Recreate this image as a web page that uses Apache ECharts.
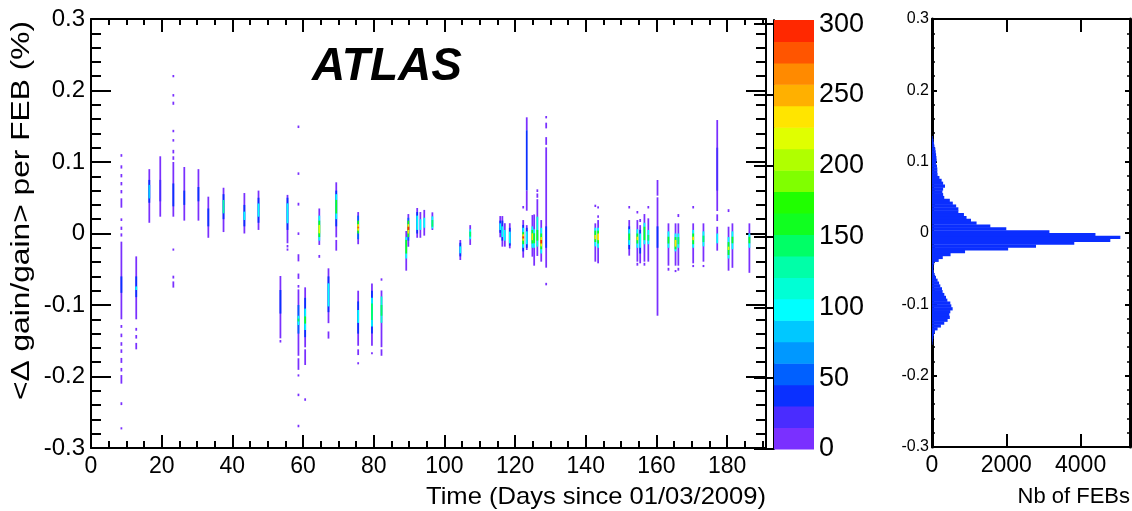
<!DOCTYPE html>
<html><head><meta charset="utf-8">
<script src="https://cdn.jsdelivr.net/npm/echarts/dist/echarts.min.js"></script>
<style>html,body{margin:0;padding:0;background:#fff}#c{width:1132px;height:511px}</style>
</head><body><div id="c"></div>
<script>
// ---------- data ----------
// colour levels (ROOT rainbow palette, 20 contours), bottom to top
const palette = ['#7a30ff','#4a2cff','#0a30ff','#0060ff','#0098ff','#00c8ff','#00ffff','#00ffd5','#00ffa8','#00ff66',
                 '#10ff20','#20ff00','#80ff00','#b0ff00','#e0ff00','#ffe500','#ffb000','#ff8a00','#ff5500','#ff2800'];
const zMax = 303;
// 2D histogram cells: [day, gainLow(%), gainHigh(%), entries]
const cells = [
[8.6,0.1073,0.1110,5],[8.6,0.0908,0.0954,5],[8.6,0.0785,0.0832,5],[8.6,0.0673,0.0720,5],[8.6,0.0561,0.0608,5],
[8.6,0.0361,0.0492,5],[8.6,0.0175,0.0212,5],[8.6,0.0050,0.0096,5],[8.6,-0.0043,0.0002,5],[8.6,-0.1200,-0.0114,8],
[8.6,-0.0830,-0.0600,38],[8.6,-0.1320,-0.1280,4],[8.6,-0.1450,-0.1400,4],[8.6,-0.1570,-0.1520,4],[8.6,-0.1670,-0.1620,4],
[8.6,-0.1810,-0.1740,4],[8.6,-0.1930,-0.1880,4],[8.6,-0.2100,-0.1980,4],[8.6,-0.2400,-0.2360,3],[8.6,-0.2740,-0.2710,3],
[12.8,-0.1200,-0.0320,8],[12.8,-0.0890,-0.0600,38],[12.8,-0.0790,-0.0740,95],[12.8,-0.1360,-0.1320,4],[12.8,-0.1470,-0.1420,4],[12.8,-0.1620,-0.1530,4],
[16.5,0.0150,0.0900,8],[16.5,0.0430,0.0750,38],[16.5,0.0490,0.0680,90],
[19.6,0.0235,0.1080,8],[19.6,0.0450,0.0750,24],
[23.3,0.2185,0.2217,4],[23.3,0.1915,0.1950,4],[23.3,0.1800,0.1844,4],[23.3,0.1416,0.1450,4],[23.3,0.1285,0.1320,4],
[23.3,0.1120,0.1170,4],[23.3,0.1030,0.1080,4],[23.3,0.0235,0.1000,8],[23.3,0.0380,0.0700,38],[23.3,-0.0240,-0.0210,4],
[23.3,-0.0630,-0.0590,4],[23.3,-0.0757,-0.0670,4],
[26.4,0.0180,0.0930,8],[26.4,0.0400,0.0600,34],
[30.4,0.0180,0.0900,8],[30.4,0.0450,0.0650,34],
[33.2,-0.0060,0.0515,8],[33.2,0.0100,0.0350,38],
[37.5,0.0020,0.0640,8],[37.5,0.0200,0.0550,45],[37.5,0.0282,0.0469,125],
[43.4,0.0000,0.0566,8],[43.4,0.0100,0.0400,40],[43.4,0.0189,0.0306,100],
[47.4,0.0050,0.0600,8],[47.4,0.0150,0.0500,40],[47.4,0.0235,0.0420,100],
[53.6,-0.1466,-0.0594,8],[53.6,-0.1120,-0.0790,38],[53.6,-0.1525,-0.1490,4],
[55.6,-0.0137,0.0540,8],[55.6,0.0050,0.0500,45],[55.6,0.0143,0.0422,100],[55.6,-0.0195,-0.0160,4],[55.6,-0.0240,-0.0210,4],
[58.7,0.1475,0.1510,4],[58.7,0.0820,0.0855,4],[58.7,0.0390,0.0430,4],[58.7,-0.0020,0.0016,4],[58.7,-0.0390,-0.0290,4],
[58.7,-0.0635,-0.0560,4],[58.7,-0.0757,-0.0720,4],[58.7,-0.1710,-0.0782,8],[58.7,-0.1400,-0.1000,50],[58.7,-0.1280,-0.1150,100],
[58.7,-0.1230,-0.1190,150],[58.7,-0.1907,-0.1745,4],[58.7,-0.2000,-0.1970,4],[58.7,-0.2275,-0.2240,4],[58.7,-0.2710,-0.2675,4],
[60.6,-0.1592,-0.0753,8],[60.6,-0.1450,-0.0900,45],[60.6,-0.1350,-0.1050,100],[60.6,-0.1260,-0.1160,160],[60.6,-0.1839,-0.1620,4],[60.6,-0.2340,-0.2305,4],
[64.6,-0.0160,0.0350,8],[64.6,-0.0100,0.0250,100],[64.6,-0.0050,0.0180,160],[64.6,0.0003,0.0120,215],[64.6,-0.0340,-0.0300,4],
[67.2,-0.1254,-0.0487,8],[67.2,-0.1100,-0.0600,45],[67.2,-0.1020,-0.0697,100],[67.2,-0.1470,-0.1370,4],
[69.4,-0.0054,0.0716,8],[69.4,0.0100,0.0600,45],[69.4,0.0200,0.0550,100],[69.4,0.0280,0.0470,160],[69.4,-0.0240,-0.0090,6],
[75.6,-0.0150,0.0300,8],[75.6,-0.0080,0.0250,60],[75.6,0.0000,0.0180,160],[75.6,0.0040,0.0130,230],[75.6,0.0072,0.0095,280],
[75.6,-0.1570,-0.0800,8],[75.6,-0.1400,-0.0950,45],[75.6,-0.1250,-0.1070,100],[75.6,-0.1700,-0.1620,4],[75.6,-0.1830,-0.1800,4],
[79.5,-0.1570,-0.0698,8],[79.5,-0.1400,-0.0800,45],[79.5,-0.1300,-0.0900,100],[79.5,-0.1210,-0.0980,150],[79.5,-0.1690,-0.1660,4],
[82.2,-0.0660,-0.0627,4],[82.2,-0.1590,-0.0797,8],[82.2,-0.1250,-0.0880,110],[82.2,-0.1150,-0.1000,150],[82.2,-0.1710,-0.1620,4],
[89.2,-0.0520,0.0035,8],[89.2,-0.0350,-0.0050,100],[89.2,-0.0280,-0.0090,155],
[89.8,-0.0185,0.0272,8],[89.8,-0.0100,0.0220,50],[89.8,-0.0050,0.0180,160],[89.8,0.0000,0.0130,230],[89.8,0.0050,0.0095,290],
[92.3,-0.0060,0.0357,8],[92.3,0.0000,0.0300,45],[92.3,0.0050,0.0250,100],
[93.2,-0.0060,0.0300,8],[93.2,0.0050,0.0200,95],
[94.3,-0.0030,0.0330,8],[94.3,0.0080,0.0220,100],
[96.6,0.0049,0.0296,8],[96.6,0.0070,0.0240,95],[96.6,0.0095,0.0189,150],
[104.5,-0.0371,-0.0091,8],[104.5,-0.0320,-0.0130,45],[104.5,-0.0277,-0.0180,95],
[107.3,-0.0160,0.0117,8],[107.3,-0.0080,0.0060,100],[107.3,-0.0044,0.0026,150],
[115.8,-0.0053,0.0244,8],[115.8,0.0010,0.0180,45],[115.8,0.0049,0.0142,100],
[116.4,-0.0184,0.0244,8],[116.4,-0.0100,0.0180,45],[116.4,-0.0050,0.0100,100],
[117.1,-0.0184,0.0144,8],[117.1,-0.0100,0.0050,95],
[118.5,-0.0207,0.0144,8],[118.5,-0.0170,0.0080,45],[118.5,-0.0137,0.0026,100],
[122.3,0.0350,0.0385,4],[122.3,-0.0338,0.0188,8],[122.3,-0.0250,0.0120,45],[122.3,-0.0200,0.0080,100],[122.3,-0.0150,0.0020,160],
[122.3,-0.0100,-0.0010,230],[122.3,-0.0070,-0.0040,290],
[123.3,0.1445,0.1625,8],[123.3,0.0600,0.1445,35],[123.3,0.0319,0.0600,8],[123.3,-0.0231,0.0117,8],[123.3,-0.0200,0.0080,45],[123.3,-0.0150,0.0030,100],
[124.9,-0.0324,0.0258,8],[124.9,-0.0200,0.0100,100],[124.9,-0.0140,0.0050,160],[124.9,-0.0093,0.0003,230],
[125.4,-0.0450,0.0267,8],[125.4,-0.0200,0.0060,100],[125.4,-0.0137,0.0003,155],
[126.3,0.0580,0.0618,4],[126.3,0.0500,0.0560,4],[126.3,-0.0314,0.0480,8],[126.3,-0.0184,0.0235,110],[126.3,-0.0100,0.0050,165],
[127.4,-0.0394,0.0188,8],[127.4,-0.0280,0.0080,100],[127.4,-0.0220,0.0000,160],[127.4,-0.0180,-0.0050,230],[127.4,-0.0140,-0.0090,290],
[128.8,0.1610,0.1643,4],[128.8,0.1470,0.1550,4],[128.8,0.1240,0.1348,4],[128.8,-0.0478,0.1205,8],[128.8,-0.0200,0.0100,40],[128.8,-0.0725,-0.0690,4],
[142.7,0.0370,0.0403,4],[142.7,-0.0394,0.0142,8],[142.7,-0.0180,0.0080,100],[142.7,-0.0120,0.0040,160],[142.7,-0.0080,-0.0020,230],
[143.5,0.0350,0.0380,4],[143.5,0.0220,0.0254,4],[143.5,-0.0417,0.0188,8],[143.5,-0.0200,0.0080,100],[143.5,-0.0140,0.0040,160],[143.5,-0.0093,0.0000,235],
[152.3,0.0350,0.0385,4],[152.3,-0.0310,0.0188,8],[152.3,-0.0220,0.0100,45],[152.3,-0.0160,0.0060,100],[152.3,-0.0093,0.0000,155],
[154.6,0.0280,0.0315,4],[154.6,-0.0394,0.0188,8],[154.6,-0.0200,0.0060,100],[154.6,-0.0140,0.0000,160],[154.6,-0.0093,-0.0045,230],[154.6,-0.0450,-0.0410,4],
[155.4,0.0160,0.0203,4],[155.4,-0.0417,0.0117,8],[155.4,-0.0280,0.0050,45],[155.4,-0.0200,0.0000,100],
[156.6,-0.0394,0.0272,8],[156.6,-0.0150,0.0150,100],[156.6,-0.0093,0.0095,160],[156.6,-0.0450,-0.0410,4],
[157.7,0.0350,0.0385,4],[157.7,-0.0394,0.0212,8],[157.7,-0.0150,0.0050,100],[157.7,-0.0100,-0.0020,150],
[160.3,0.0529,0.0748,8],[160.3,-0.1150,0.0506,8],[160.3,-0.0200,0.0100,35],
[163.4,-0.0450,0.0142,8],[163.4,-0.0200,0.0030,100],[163.4,-0.0140,-0.0045,160],[163.4,-0.0520,-0.0480,4],
[165.4,-0.0450,0.0142,8],[165.4,-0.0250,0.0000,100],[165.4,-0.0220,-0.0050,160],[165.4,-0.0184,-0.0090,230],[165.4,-0.0540,-0.0510,4],
[166.2,0.0230,0.0272,4],[166.2,-0.0450,0.0142,8],[166.2,-0.0200,0.0000,100],[166.2,-0.0150,-0.0050,150],[166.2,-0.0520,-0.0480,4],
[170.4,0.0350,0.0385,4],[170.4,-0.0417,0.0142,8],[170.4,-0.0200,0.0050,100],[170.4,-0.0150,0.0000,160],[170.4,-0.0093,-0.0045,230],[170.4,-0.0470,-0.0440,4],
[173.3,-0.0394,0.0142,8],[173.3,-0.0180,0.0030,100],[173.3,-0.0120,-0.0030,150],[173.3,-0.0470,-0.0440,4],
[177.2,0.0315,0.1587,8],[177.2,0.0600,0.1200,30],[177.2,0.0175,0.0268,4],[177.2,-0.0240,0.0095,8],[177.2,-0.0137,0.0000,100],
[180.4,0.0300,0.0340,4],[180.4,-0.0520,0.0095,8],[180.4,-0.0350,-0.0050,100],[180.4,-0.0300,-0.0120,160],[180.4,-0.0230,-0.0184,225],
[181.5,-0.0480,0.0142,8],[181.5,-0.0220,0.0030,100],[181.5,-0.0137,-0.0045,160],
[186.3,-0.0550,0.0142,8],[186.3,-0.0200,0.0000,100],[186.3,-0.0137,-0.0045,160]
];
// projection histogram (Nb of FEBs), bins of histBinWidth starting at histBinStart, bottom to top
const histBinStart = -0.156;
const histBinWidth = 0.004;
const histCounts = [15,25,36,50,80,150,240,330,420,480,466,493,556,520,493,413,377,332,287,270,
                    224,190,150,108,72,50,36,40,60,180,290,500,890,2050,2800,3830,4800,5070,4400,3160,
                    2000,1570,1200,1050,930,860,710,710,650,560,480,330,300,280,300,350,300,260,200,150,
                    143,143,135,110,125,120,110,100,90,65,55,40,20];

// ---------- chart ----------
const FONT = '"Liberation Sans", Arial, Helvetica, sans-serif';
const chart = echarts.init(document.getElementById('c'), null, {renderer: 'canvas'});
const black = '#000';
const cellHalfWidth = 0.25;
const levelStep = zMax / palette.length;
const plainNumber = v => String(+v.toFixed(6));

function frameAxis(extra) {
  return Object.assign({
    axisLine: {show: true, onZero: false, lineStyle: {color: black, width: 2}},
    splitLine: {show: false},
    axisTick: {show: true, inside: true, lineStyle: {color: black, width: 2}},
    minorTick: {show: false},
    axisLabel: {show: false}
  }, extra);
}

const mainX = {gridIndex: 0, type: 'value', min: 0, max: 191, interval: 20};
const mainY = {gridIndex: 0, type: 'value', min: -0.3, max: 0.3, interval: 0.1};
const sideX = {gridIndex: 2, type: 'value', min: 0, max: 5330, interval: 2000};
const sideY = {gridIndex: 2, type: 'value', min: -0.3, max: 0.3, interval: 0.1};

const option = {
  animation: false,
  backgroundColor: '#fff',
  grid: [
    {left: 91, top: 19, width: 675, height: 429, outerBoundsMode: 'none', containLabel: false},
    {left: 774, top: 20, width: 40, height: 429, outerBoundsMode: 'none', containLabel: false},
    {left: 932, top: 19, width: 198, height: 428, outerBoundsMode: 'none', containLabel: false}
  ],
  xAxis: [
    frameAxis(Object.assign({}, mainX, {position: 'bottom',
      axisTick: {show: true, inside: true, length: 13, lineStyle: {color: black, width: 2}},
      minorTick: {show: true, splitNumber: 4, length: 7, lineStyle: {color: black, width: 2}},
      axisLabel: {show: true, showMaxLabel: false, color: black, fontFamily: FONT, fontSize: 23, margin: 7, formatter: plainNumber}})),
    frameAxis(Object.assign({}, mainX, {position: 'top',
      axisTick: {show: true, inside: true, length: 13, lineStyle: {color: black, width: 2}},
      minorTick: {show: true, splitNumber: 4, length: 6, lineStyle: {color: black, width: 2}}})),
    {gridIndex: 1, type: 'value', min: 0, max: 1, show: false},
    frameAxis(Object.assign({}, sideX, {position: 'bottom',
      axisTick: {show: true, inside: true, length: 13, lineStyle: {color: black, width: 2}},
      axisLabel: {show: true, showMaxLabel: false, color: black, fontFamily: FONT, fontSize: 23, margin: 7, formatter: plainNumber}})),
    frameAxis(Object.assign({}, sideX, {position: 'top',
      axisTick: {show: true, inside: true, length: 13, lineStyle: {color: black, width: 2}}}))
  ],
  yAxis: [
    frameAxis(Object.assign({}, mainY, {position: 'left',
      axisTick: {show: true, inside: true, length: 20, lineStyle: {color: black, width: 2}},
      minorTick: {show: true, splitNumber: 5, length: 10, lineStyle: {color: black, width: 2}},
      axisLabel: {show: true, color: black, fontFamily: FONT, fontSize: 24, margin: 6, formatter: plainNumber}})),
    frameAxis(Object.assign({}, mainY, {position: 'right',
      axisTick: {show: true, inside: true, length: 20, lineStyle: {color: black, width: 2}},
      minorTick: {show: true, splitNumber: 5, length: 10, lineStyle: {color: black, width: 2}}})),
    {gridIndex: 1, type: 'value', min: 0, max: zMax, interval: 50, position: 'right',
      axisLine: {show: true, lineStyle: {color: black, width: 2}},
      axisTick: {show: true, inside: true, length: 20, lineStyle: {color: black, width: 2}},
      splitLine: {show: false},
      axisLabel: {show: true, showMaxLabel: false, color: black, fontFamily: FONT, fontSize: 27, margin: 5, formatter: plainNumber}},
    frameAxis(Object.assign({}, sideY, {position: 'left',
      axisLine: {show: true, onZero: false, lineStyle: {color: black, width: 3}},
      axisTick: {show: true, inside: true, length: 5, lineStyle: {color: black, width: 2}},
      minorTick: {show: true, splitNumber: 5, length: 3, lineStyle: {color: black, width: 1.5}},
      axisLabel: {show: true, color: black, fontFamily: FONT, fontSize: 16, margin: 3, formatter: plainNumber}})),
    frameAxis(Object.assign({}, sideY, {position: 'right',
      axisLine: {show: true, onZero: false, lineStyle: {color: black, width: 3}},
      axisTick: {show: true, inside: true, length: 5, lineStyle: {color: black, width: 2}},
      minorTick: {show: true, splitNumber: 5, length: 3, lineStyle: {color: black, width: 1.5}}}))
  ],
  visualMap: {
    type: 'piecewise', show: false, seriesIndex: 0, dimension: 3,
    pieces: palette.map((c, i) => ({gte: i * levelStep, lt: (i + 1) * levelStep + (i === palette.length - 1 ? 1e6 : 0), color: c}))
  },
  series: [
    {
      type: 'custom', xAxisIndex: 0, yAxisIndex: 0, clip: true,
      encode: {x: 0, y: [1, 2]},
      data: cells,
      renderItem: function (params, api) {
        const d = api.value(0), lo = api.value(1), hi = api.value(2);
        const p1 = api.coord([d - cellHalfWidth, hi]);
        const p2 = api.coord([d + cellHalfWidth, lo]);
        return {type: 'rect', shape: {x: p1[0], y: p1[1], width: Math.max(p2[0] - p1[0], 1.5), height: Math.max(p2[1] - p1[1], 1)},
                style: {fill: api.visual('color')}};
      }
    },
    {
      type: 'custom', xAxisIndex: 2, yAxisIndex: 2, silent: true,
      data: palette.map((c, i) => [i]),
      renderItem: function (params, api) {
        const i = api.value(0);
        const p1 = api.coord([0, (i + 1) * levelStep]);
        const p2 = api.coord([1, i * levelStep]);
        return {type: 'rect', shape: {x: p1[0], y: p1[1], width: p2[0] - p1[0], height: p2[1] - p1[1] + 0.5},
                style: {fill: palette[i]}};
      }
    },
    {
      type: 'custom', xAxisIndex: 3, yAxisIndex: 3,
      data: histCounts.map((c, i) => [histBinStart + i * histBinWidth, histBinStart + (i + 1) * histBinWidth, c]),
      renderItem: function (params, api) {
        const lo = api.value(0), hi = api.value(1), c = api.value(2);
        const p1 = api.coord([0, hi]);
        const p2 = api.coord([c, lo]);
        return {type: 'rect', shape: {x: p1[0], y: p1[1], width: p2[0] - p1[0], height: p2[1] - p1[1] + 0.4},
                style: {fill: '#0a2eff'}};
      }
    }
  ],
  graphic: [
    {type: 'text', x: 312, y: 67, style: {text: 'ATLAS', font: 'italic bold 46px ' + FONT, fill: black, align: 'left', verticalAlign: 'middle', textAlign: 'left', textVerticalAlign: 'middle'}},
    {type: 'text', x: 766, y: 497, scaleX: 1.065, style: {text: 'Time (Days since 01/03/2009)', font: '24px ' + FONT, fill: black, align: 'right', verticalAlign: 'middle', textAlign: 'right', textVerticalAlign: 'middle'}},
    {type: 'text', x: 1130, y: 497, style: {text: 'Nb of FEBs', font: '22px ' + FONT, fill: black, align: 'right', verticalAlign: 'middle', textAlign: 'right', textVerticalAlign: 'middle'}},
    {type: 'text', x: 22, y: 21, rotation: Math.PI / 2, scaleX: 1.22, style: {text: '<\u0394 gain/gain> per FEB (%)', font: '26px ' + FONT, fill: black, align: 'right', verticalAlign: 'middle', textAlign: 'right', textVerticalAlign: 'middle'}}
  ]
};
chart.setOption(option);
</script>
</body></html>
